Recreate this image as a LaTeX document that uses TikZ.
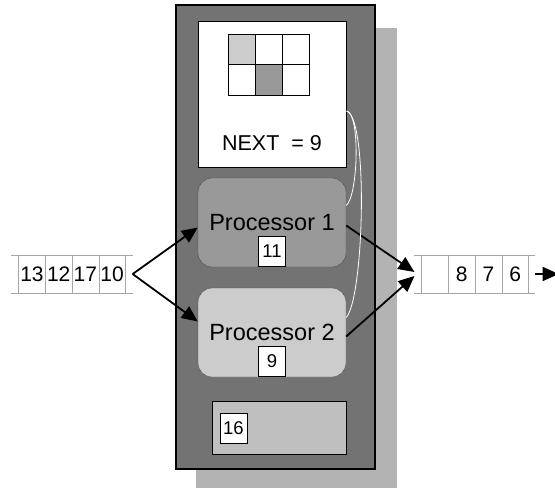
\documentclass[tikz,border=0pt]{standalone}
\usepackage{fontspec}
\setmainfont{Liberation Sans}
\usepackage{tikz}
\usetikzlibrary{positioning,arrows.meta}
\usepackage{xcolor}
\definecolor{cabinet}   {RGB}{115, 115, 115}
\definecolor{shadowgray}{RGB}{179, 179, 179}
\definecolor{procone}   {RGB}{153, 153, 153}
\definecolor{proctwo}   {RGB}{204, 204, 204}
\definecolor{sparegray} {RGB}{191, 191, 191}

\begin{document}
\begin{tikzpicture}[x=1pt, y=-1pt,
    qcell/.style={draw=black!35, fill=white, inner sep=0pt,
                  minimum width=26.7pt, minimum height=38pt,
                  font=\fontsize{21}{25}\selectfont},
    qline/.style={draw=black!35, line width=0.6pt},
    mcell/.style={draw=black, line width=1pt, inner sep=0pt,
                  minimum width=26.7pt, minimum height=30.5pt},
    procbox/.style={draw=black!70, rounded corners=14pt,
                    minimum width=148pt, minimum height=89pt,
                    font=\fontsize{23.5}{27}\selectfont},
    tagbox/.style={draw=black, fill=white, inner sep=0pt,
                   minimum width=27pt, minimum height=30pt,
                   font=\fontsize{18.5}{22}\selectfont},
    flow/.style={-{Triangle[length=16pt,width=14pt]}, line width=1.8pt},
    wire/.style={draw=white, line width=0.8pt}]
  \useasboundingbox (0,0) rectangle (555,490);

  % cabinet and its drop shadow
  \fill[shadowgray] (196,28) rectangle (397,488);
  \draw[fill=cabinet, line width=1.5pt] (176,5) rectangle (375,469);

  % memory with the work grid
  \node[draw=black, fill=white, line width=1pt, inner sep=0pt,
        minimum width=148pt, minimum height=146pt] (memory) at (272,94) {};
  \foreach \c/\r/\f in {0/0/proctwo, 1/0/white, 2/0/white,
                        0/1/white, 1/1/procone, 2/1/white}
    \node[mcell, fill=\f] (g\c\r) at ({242.3+26.7*\c},{49.3+30.5*\r}) {};
  \node[font=\fontsize{21.5}{25}\selectfont] (nextval) at (272,143) {NEXT\ \ = 9};

  % the two processors
  \node[procbox, fill=procone] (p1) at (272,222.5) {Processor 1};
  \node[tagbox, anchor=south] (t1) at ([yshift=1pt]p1.south) {11};
  \node[procbox, fill=proctwo] (p2) at (272,332.5) {Processor 2};
  \node[tagbox, anchor=south] (t2) at ([yshift=1pt]p2.south) {9};

  % spare slot
  \node[draw=black, fill=sparegray, line width=1pt, inner sep=0pt,
        minimum width=134pt, minimum height=53pt] (spare) at (279,427.5) {};
  \node[tagbox] (t3) at (233.5,428) {16};

  % input queue
  \foreach \n [count=\i] in {13,12,17,10}
    \node[qcell] (in\i) at ({32+26.7*(\i-1)},274) {\n};
  \draw[qline] ([xshift=-7pt]in1.north west) -- ([xshift=7pt]in4.north east);
  \draw[qline] ([xshift=-7pt]in1.south west) -- ([xshift=7pt]in4.south east);
  \coordinate (fork) at ([xshift=7pt]in4.east);

  % output queue
  \foreach \n [count=\i] in {{},8,7,6}
    \node[qcell] (out\i) at ({435+26.7*(\i-1)},274) {\n};
  \draw[qline] ([xshift=-7pt]out1.north west) -- ([xshift=6pt]out4.north east);
  \draw[qline] ([xshift=-7pt]out1.south west) -- ([xshift=6pt]out4.south east);
  \coordinate (join) at ([xshift=-7pt]out1.west);
  \coordinate (exit) at ([xshift=30pt]out4.east);

  % jobs in and out
  \draw[flow] (fork) -- ([yshift=-5pt]p1.west);
  \draw[flow] (fork) -- ([yshift=11pt]p2.west);
  \draw[flow] ([yshift=-3pt]p1.east) -- ([yshift=2pt]join);
  \draw[flow] ([yshift=-4pt]p2.east) -- ([yshift=-2pt]join);
  \draw[flow] ([xshift=6pt]out4.east) -- (exit);

  % NEXT counter read by both processors
  \draw[wire] ([yshift=-17pt]memory.east) .. controls +(14,2) and +(12,-10) .. ([yshift=17pt]p1.east);
  \draw[wire] ([yshift=-17pt]memory.east) .. controls +(22,6) and +(18,-20) .. ([yshift=15pt]p2.east);
\end{tikzpicture}
\end{document}
